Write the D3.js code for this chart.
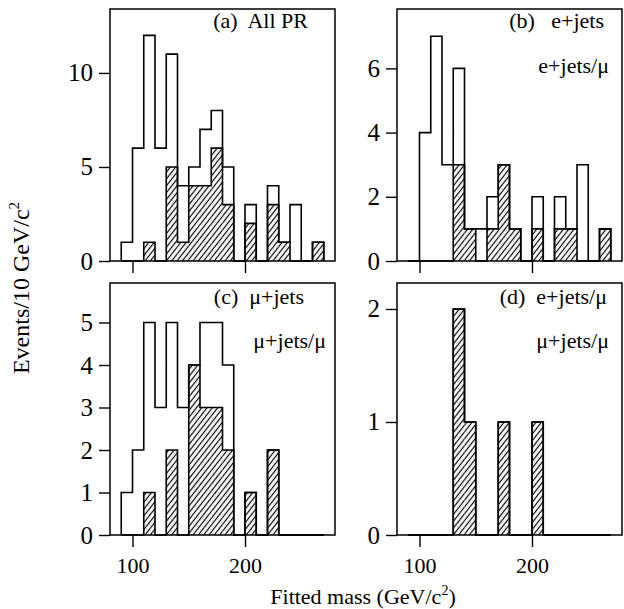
<!DOCTYPE html>
<meta charset="utf-8">
<style>
body { margin: 0; background: #fff; }
svg text { font-family: "Liberation Serif", "DejaVu Serif", serif; fill: #000; white-space: pre; }
.frame { fill: none; stroke: #000; stroke-width: 1.5; }
.open { fill: none; stroke: #000; stroke-width: 1.6; }
.hatch { fill: url(#diag); stroke: none; }
.hline { fill: none; stroke: #000; stroke-width: 1.6; }
.axis line { stroke: #000; stroke-width: 1.4; }
.axis path { display: none; }
</style>
<body>
<script src="https://cdn.jsdelivr.net/npm/d3@7"></script>
<script>
// lower edge of each 10 GeV bin
var bins = [90, 100, 110, 120, 130, 140, 150, 160, 170, 180, 190, 200, 210, 220, 230, 240, 250, 260];

// (a) All PR
var openA  = [1, 6, 12, 6, 11, 4, 5, 7, 8, 5, 0, 3, 0, 4, 1, 3, 0, 1];
var hatchA = [0, 0, 1, 0, 5, 1, 4, 4, 6, 3, 0, 2, 0, 3, 1, 0, 0, 1];
// (b) e+jets
var openB  = [0, 4, 7, 3, 6, 1, 1, 2, 3, 1, 0, 2, 0, 2, 1, 3, 0, 1];
var hatchB = [0, 0, 0, 0, 3, 1, 0, 1, 3, 1, 0, 1, 0, 1, 1, 0, 0, 1];
// (c) mu+jets
var openC  = [1, 2, 5, 3, 5, 3, 4, 5, 5, 4, 0, 1, 0, 2, 0, 0, 0, 0];
var hatchC = [0, 0, 1, 0, 2, 0, 4, 3, 3, 2, 0, 1, 0, 2, 0, 0, 0, 0];
// (d) e+jets/mu, mu+jets/mu
var openD  = [0, 0, 0, 0, 2, 1, 0, 0, 1, 0, 0, 1, 0, 0, 0, 0, 0, 0];
var hatchD = [0, 0, 0, 0, 2, 1, 0, 0, 1, 0, 0, 1, 0, 0, 0, 0, 0, 0];

var xTicks = [100, 200];
var yTicksA = [0, 5, 10], yTicksB = [0, 2, 4, 6], yTicksC = [0, 1, 2, 3, 4, 5], yTicksD = [0, 1, 2];

var binWidth = 10;

var svg = d3.select("body").append("svg")
    .attr("width", 624)
    .attr("height", 609);

var defs = svg.append("defs");
defs.append("pattern")
    .attr("id", "diag")
    .attr("patternUnits", "userSpaceOnUse")
    .attr("width", 4.2)
    .attr("height", 10)
    .attr("patternTransform", "rotate(38)")
  .append("line")
    .attr("x1", 2.1).attr("y1", 0)
    .attr("x2", 2.1).attr("y2", 10)
    .attr("stroke", "#000")
    .attr("stroke-width", 1.2);

var pw = 225, ph = 252;

var panels = [
  {left: 110, top: 9,   ymax: 13.4, open: openA, hatch: hatchA, ticks: yTicksA, xlab: false,
   labels: [{t: "(a)  All PR", dx: -27, y: 28}]},
  {left: 397, top: 9,   ymax: 7.85, open: openB, hatch: hatchB, ticks: yTicksB, xlab: false,
   labels: [{t: "(b)   e+jets", dx: -18, y: 28}, {t: "e+jets/\u03bc", dx: -13, y: 73}]},
  {left: 110, top: 283, ymax: 5.93, open: openC, hatch: hatchC, ticks: yTicksC, xlab: true,
   labels: [{t: "(c)  \u03bc+jets", dx: -31, y: 304}, {t: "\u03bc+jets/\u03bc", dx: -9, y: 348}]},
  {left: 397, top: 283, ymax: 2.23, open: openD, hatch: hatchD, ticks: yTicksD, xlab: true,
   labels: [{t: "(d)  e+jets/\u03bc", dx: -15, y: 304}, {t: "\u03bc+jets/\u03bc", dx: -13, y: 348}]}
];

function stepPath(x, y, counts) {
  var p = d3.path();
  p.moveTo(x(bins[0]), y(0));
  counts.forEach(function(c, i) {
    p.lineTo(x(bins[i]), y(c));
    p.lineTo(x(bins[i] + binWidth), y(c));
  });
  p.lineTo(x(bins[bins.length - 1] + binWidth), y(0));
  return p.toString();
}

panels.forEach(function(d) {
  var g = svg.append("g").attr("transform", "translate(" + d.left + "," + d.top + ")");

  var x = d3.scaleLinear().domain([80, 280]).range([0, pw]);
  var y = d3.scaleLinear().domain([0, d.ymax]).range([ph, 0]);

  // hatched bins
  g.selectAll(".hatch")
      .data(d.hatch.map(function(c, i) { return {lo: bins[i], c: c}; }).filter(function(b) { return b.c > 0; }))
    .enter().append("rect")
      .attr("class", "hatch")
      .attr("x", function(b) { return x(b.lo); })
      .attr("y", function(b) { return y(b.c); })
      .attr("width", function(b) { return x(b.lo + binWidth) - x(b.lo); })
      .attr("height", function(b) { return y(0) - y(b.c); });

  g.append("path").attr("class", "hline").attr("d", stepPath(x, y, d.hatch));
  g.append("path").attr("class", "open").attr("d", stepPath(x, y, d.open));

  g.append("rect").attr("class", "frame")
      .attr("width", pw).attr("height", ph);

  var xAxis = d3.axisBottom(x).tickValues(xTicks).tickSize(12).tickPadding(10.5)
      .tickFormat(d.xlab ? d3.format("d") : "");
  g.append("g").attr("class", "axis")
      .attr("transform", "translate(0," + ph + ")")
      .call(xAxis)
      .selectAll("text").style("font-size", "22px");

  var yAxis = d3.axisLeft(y).tickValues(d.ticks).tickSize(11).tickPadding(6)
      .tickFormat(d3.format("d"));
  g.append("g").attr("class", "axis")
      .call(yAxis)
      .selectAll("text").style("font-size", "25px");

  d.labels.forEach(function(l) {
    svg.append("text")
        .attr("x", d.left + pw + l.dx)
        .attr("y", l.y)
        .attr("text-anchor", "end")
        .style("font-size", "22px")
        .text(l.t);
  });
});

var yl = svg.append("text")
    .attr("transform", "translate(29,288) rotate(-90)")
    .attr("text-anchor", "middle")
    .style("font-size", "24px");
yl.append("tspan").text("Events/10 GeV/c");
yl.append("tspan").attr("dy", -10).style("font-size", "15px").text("2");

var xl = svg.append("text")
    .attr("x", 363)
    .attr("y", 604)
    .attr("text-anchor", "middle")
    .style("font-size", "22px");
xl.append("tspan").text("Fitted mass (GeV/c");
xl.append("tspan").attr("dy", -9).style("font-size", "14px").text("2");
xl.append("tspan").attr("dy", 9).text(")");
</script>
</body>
</html>
